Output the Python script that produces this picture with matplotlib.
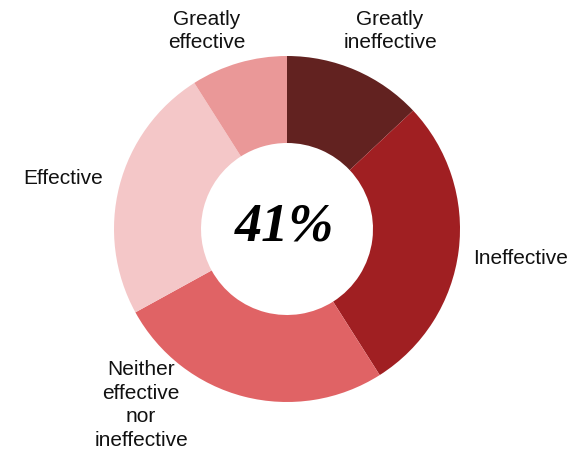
import matplotlib
matplotlib.use("Agg")
import matplotlib.pyplot as plt

# data
labels = ["Greatly\nineffective", "Ineffective", "Neither\neffective\nnor\nineffective",
          "Effective", "Greatly\neffective"]
values = [13, 28, 26, 24, 9]
colors = ["#622220", "#A01F22", "#E06365", "#F4C7C8", "#EA9898"]
center_text = "41%"

# label anchor points in pixel coords (x from left, y from top)
label_pos = [(390, 31), (521, 259), (141, 405), (63, 178), (207, 31)]

W, H = 585, 452
fig = plt.figure(figsize=(W / 100, H / 100), dpi=100)
ax = fig.add_axes([0, 0, 1, 1])

cx, cy = 287, H - 230
R = 173
ax.pie(values, colors=colors, startangle=90, counterclock=False,
       center=(cx, cy), radius=R, frame=True,
       wedgeprops=dict(width=R - 86, linewidth=0))
ax.set_xlim(0, W)
ax.set_ylim(0, H)
ax.set_aspect("equal")
ax.axis("off")

for lab, (x, y) in zip(labels, label_pos):
    ax.text(x, H - y, lab, ha="center", va="center", fontsize=15,
            family="Liberation Sans", color="#111111", linespacing=1.3)

ax.text(cx - 2, H - 228, center_text, ha="center", va="center", fontsize=39,
        family="Liberation Serif", weight="bold", style="italic", color="black")

fig.savefig("out.png", dpi=100)
